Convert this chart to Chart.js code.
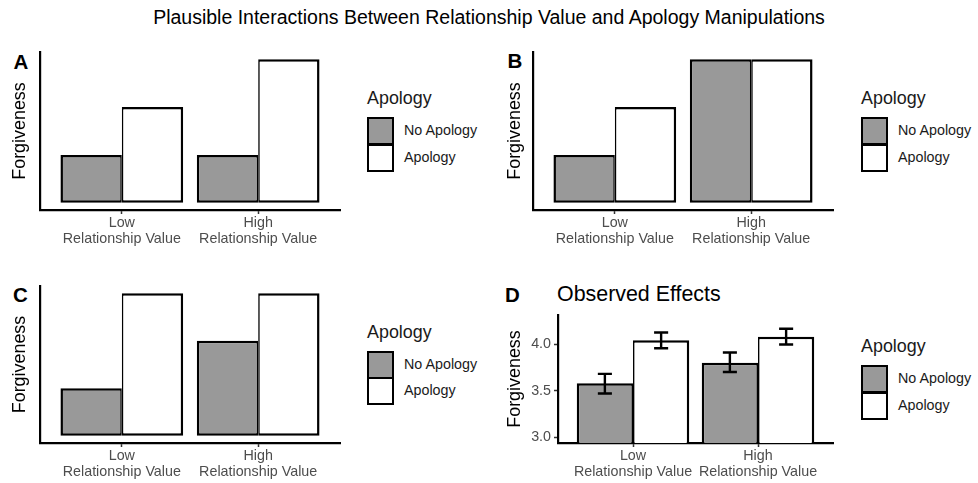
<!DOCTYPE html>
<html>
<head>
<meta charset="utf-8">
<script src="https://cdn.jsdelivr.net/npm/chart.js@4.4.1/dist/chart.umd.min.js"></script>
<style>
  body { margin: 0; background: #fff; font-family: "Liberation Sans", Arial, sans-serif; }
  #page { position: relative; width: 978px; height: 483px; overflow: hidden; background: #fff; }
  canvas { position: absolute; }
  .txt { position: absolute; white-space: nowrap; line-height: 1.2; color: #000; }
  .mid { transform: translate(-50%, -50%); }
  .lft { transform: translateY(-50%); }
  .letter { font-weight: bold; font-size: 20.5px; }
  .key { position: absolute; width: 23px; height: 24px; border: 2.5px solid #000; }
</style>
</head>
<body>
<div id="page">
  <div class="txt mid" style="left:489px;top:18px;font-size:19.5px;">Plausible Interactions Between Relationship Value and Apology Manipulations</div>
  <div class="txt mid letter" style="left:21px;top:61.5px;">A</div>
  <div class="txt mid letter" style="left:515px;top:60.5px;">B</div>
  <div class="txt mid letter" style="left:20.5px;top:295px;">C</div>
  <div class="txt mid letter" style="left:512.5px;top:295px;">D</div>
  <div class="txt lft" style="left:557px;top:295px;font-size:21.4px;">Observed Effects</div>
</div>
<script>
// ---- data ----
const categories = [['Low', 'Relationship Value'], ['High', 'Relationship Value']];
const seriesNames = ['No Apology', 'Apology'];
const seriesFills = ['#999999', '#ffffff'];

// panels A-C are hypothetical patterns (arbitrary units)
const panelA_noApology = [1, 1];
const panelA_apology   = [2, 3];
const panelB_noApology = [1, 3];
const panelB_apology   = [2, 3];
const panelC_noApology = [1, 2];
const panelC_apology   = [3, 3];

// panel D observed means with error bar ends
const observed_noApology    = [3.58, 3.80];
const observed_apology      = [4.04, 4.08];
const observed_noApology_lo = [3.47, 3.70];
const observed_noApology_hi = [3.68, 3.91];
const observed_apology_lo   = [3.955, 3.995];
const observed_apology_hi   = [4.125, 4.165];
const observedTicks = [3.0, 3.5, 4.0];

const page = document.getElementById('page');

// draws error bars on top of the bars (Chart.js has no built-in for this)
const errorBars = {
  id: 'errorBars',
  afterDatasetsDraw(chart) {
    const ctx = chart.ctx;
    const y = chart.scales.y;
    chart.data.datasets.forEach((ds, i) => {
      if (!ds.errorLo) return;
      chart.getDatasetMeta(i).data.forEach((bar, j) => {
        const top = y.getPixelForValue(ds.errorHi[j]);
        const bot = y.getPixelForValue(ds.errorLo[j]);
        const half = bar.width * 0.125;
        ctx.save();
        ctx.strokeStyle = '#000';
        ctx.lineWidth = 2.4;
        ctx.beginPath();
        ctx.moveTo(bar.x, top); ctx.lineTo(bar.x, bot);
        ctx.moveTo(bar.x - half, top); ctx.lineTo(bar.x + half, top);
        ctx.moveTo(bar.x - half, bot); ctx.lineTo(bar.x + half, bot);
        ctx.stroke();
        ctx.restore();
      });
    });
  }
};

function barDatasets(noApology, apology, errLo, errHi) {
  return [noApology, apology].map((vals, s) => ({
    label: seriesNames[s],
    data: vals.map((v, i) => ({ x: i + 1, y: v })),
    backgroundColor: seriesFills[s],
    borderColor: '#000',
    borderWidth: s === 0 ? { top: 2.5, left: 2.5, bottom: 2.5, right: 1.6 } : { top: 2.5, left: 1.6, bottom: 2.5, right: 2.5 },
    borderSkipped: false,
    inflateAmount: 0,
    categoryPercentage: 0.9,
    barPercentage: 1.0,
    errorLo: errLo ? errLo[s] : null,
    errorHi: errHi ? errHi[s] : null
  }));
}

function makeLegend(left, cy) {
  const t = document.createElement('div');
  t.className = 'txt lft';
  t.style.cssText = `left:${left}px;top:${cy}px;font-size:17.9px;color:#1a1a1a;`;
  t.textContent = 'Apology';
  page.appendChild(t);
  seriesNames.forEach((name, s) => {
    const top = cy + 18 + s * 26.5;
    const k = document.createElement('div');
    k.className = 'key';
    k.style.cssText = `left:${left}px;top:${top}px;background:${seriesFills[s]};`;
    page.appendChild(k);
    const l = document.createElement('div');
    l.className = 'txt lft';
    l.style.cssText = `left:${left + 37}px;top:${top + 14}px;font-size:14.3px;color:#1a1a1a;`;
    l.textContent = name;
    page.appendChild(l);
  });
}

function makePanel(p) {
  const cv = document.createElement('canvas');
  cv.width = p.W; cv.height = p.H;
  cv.style.left = p.L + 'px'; cv.style.top = p.T + 'px';
  page.appendChild(cv);
  const yW = p.area.left - p.L;
  const xH = p.T + p.H - p.area.bottom;

  const yScale = p.observed ? {
    type: 'linear', min: 2.9375, max: 4.3125,
    afterBuildTicks: s => { s.ticks = observedTicks.map(v => ({ value: v })); },
    ticks: { display: true, color: '#4d4d4d', padding: 3, font: { size: 14.3 }, callback: v => v.toFixed(1) },
    grid: { display: true, drawOnChartArea: false, drawTicks: true, tickLength: 4, tickWidth: 1.5, tickColor: '#333' }
  } : {
    type: 'linear', min: -0.15, max: 3.15,
    ticks: { display: false },
    grid: { display: false }
  };
  Object.assign(yScale, {
    border: { display: true, color: '#000', width: 2.2 },
    title: { display: true, text: 'Forgiveness', color: '#000', font: { size: 17.9 }, padding: { top: p.titlePad, bottom: 0 } },
    afterFit: s => { s.width = yW; s.paddingTop = 0; s.paddingBottom = 0; }
  });

  return new Chart(cv, {
    type: 'bar',
    data: { datasets: barDatasets(p.noApology, p.apology, p.errLo, p.errHi) },
    options: {
      responsive: false,
      animation: false,
      devicePixelRatio: 1,
      layout: { padding: { left: 0, top: p.area.top - p.T, right: p.L + p.W - p.area.right, bottom: 0 } },
      plugins: { legend: { display: false }, tooltip: { enabled: false } },
      scales: {
        x: {
          type: 'linear', min: 0.4, max: 2.6, offset: false,
          afterBuildTicks: s => { s.ticks = categories.map((c, i) => ({ value: i + 1 })); },
          afterFit: s => { s.height = xH; s.paddingLeft = 0; s.paddingRight = 0; },
          ticks: { autoSkip: false, maxRotation: 0, minRotation: 0, padding: 1.5, color: '#4d4d4d',
                   font: { size: 14.3, lineHeight: 1.1 }, callback: (v, i) => categories[i] },
          grid: { display: true, drawOnChartArea: false, drawTicks: true, tickLength: 4, tickWidth: 1.5, tickColor: '#333', offset: false },
          border: { display: true, color: '#000', width: 2.2 }
        },
        y: yScale
      }
    },
    plugins: p.errLo ? [errorBars] : []
  });
}

makePanel({ L: 0, T: 40, W: 345, H: 215, area: { left: 40, top: 52, right: 340, bottom: 210 },
  noApology: panelA_noApology, apology: panelA_apology, titlePad: 9.3 });
makePanel({ L: 490, T: 40, W: 348, H: 215, area: { left: 533, top: 52, right: 833, bottom: 210 },
  noApology: panelB_noApology, apology: panelB_apology, titlePad: 14.3 });
makePanel({ L: 0, T: 275, W: 345, H: 208, area: { left: 40, top: 286, right: 340, bottom: 443 },
  noApology: panelC_noApology, apology: panelC_apology, titlePad: 9.3 });
makePanel({ L: 490, T: 305, W: 348, H: 178, area: { left: 558, top: 315, right: 833, bottom: 443 },
  noApology: observed_noApology, apology: observed_apology, observed: true, titlePad: 14.3,
  errLo: [observed_noApology_lo, observed_apology_lo], errHi: [observed_noApology_hi, observed_apology_hi] });

makeLegend(367, 99);
makeLegend(861, 99);
makeLegend(367, 332.5);
makeLegend(861, 347);
</script>
</body>
</html>
